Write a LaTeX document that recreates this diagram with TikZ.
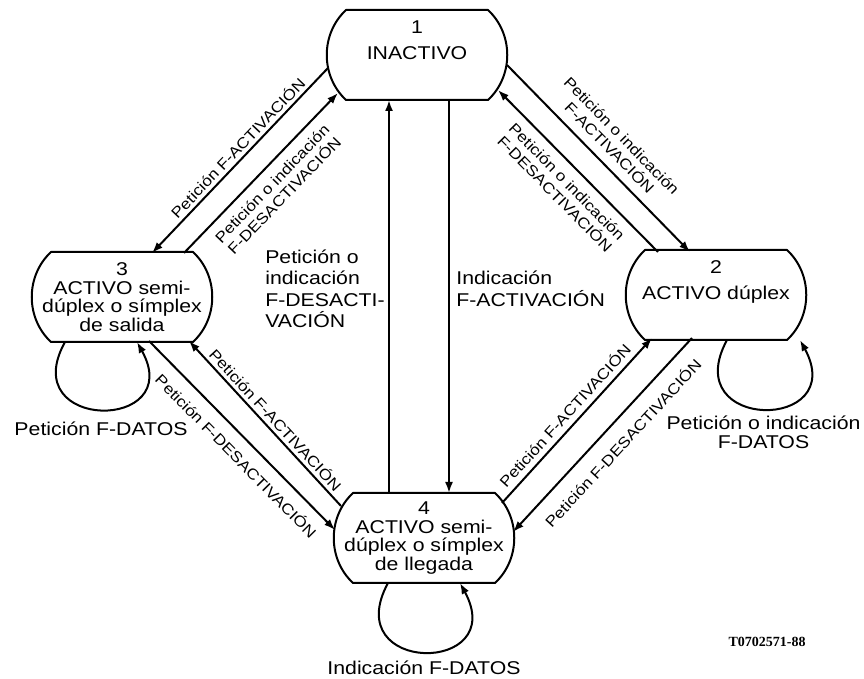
\documentclass[tikz,border=0pt]{standalone}
\usepackage{fontspec}
\setmainfont{Liberation Sans}[FakeStretch=1.15]
\newfontfamily\tagfont{Liberation Serif}
\usetikzlibrary{arrows.meta}
\newcommand\stateline[1]{%
  \draw ([xshift=18pt]#1.north west) -- ([xshift=-18pt]#1.north east)
    to[out=-43,in=43] ([xshift=-18pt]#1.south east) -- ([xshift=18pt]#1.south west)
    to[out=137,in=-137] ([xshift=18pt]#1.north west) -- cycle;}
\tikzset{
  state/.style={minimum width=176pt,minimum height=88pt,inner sep=0pt,align=center},
  lbl/.style={font=\fontsize{15}{17}\selectfont,align=center,sloped},
  vlbl/.style={font=\fontsize{18.5}{21.5}\selectfont,align=left}
}
\begin{document}
\begin{tikzpicture}[x=1pt,y=1pt,>={Latex[length=11pt,width=8pt]},line width=2pt,line join=round,
  font=\fontsize{18.5}{18.5}\selectfont]
\useasboundingbox (0,0) rectangle (864,679);
\node[state] (n1) at (417,624) {1\\[7.5pt]INACTIVO\rule[-30pt]{0pt}{30pt}};
\node[state] (n2) at (716,384) {2\\[7.5pt]ACTIVO dúplex\rule[-30pt]{0pt}{30pt}};
\node[state] (n3) at (122,382) {3\\ACTIVO semi-\\dúplex o símplex\\de salida};
\node[state] (n4) at (424,141) {4\\ACTIVO semi-\\dúplex o símplex\\de llegada};
\foreach \n in {n1,n2,n3,n4} {\stateline{\n}}
\draw[->] ([shift={(-89,-13)}]n1.center) -- node[lbl,above,pos=.47]{Petición F-ACTIVACIÓN} ([shift={(30,44)}]n3.center);
\draw[->] ([shift={(62,44)}]n3.center) -- node[lbl,below=5.5pt,pos=.5]{Petición o indicación\\F-DESACTIVACIÓN} ([shift={(-79,-38)}]n1.center);
\draw[->] ([shift={(90,-10)}]n1.center) -- node[lbl,above=5.5pt,pos=.5]{Petición o indicación\\F-ACTIVACIÓN} ([shift={(-26,43)}]n2.center);
\draw[->] ([shift={(-58,43)}]n2.center) -- node[lbl,below=5.5pt,pos=.5]{Petición o indicación\\F-DESACTIVACIÓN} ([shift={(81,-35)}]n1.center);
\draw[->] ([shift={(78,35)}]n4.center) -- node[lbl,above=2pt,pos=.48]{Petición F-ACTIVACIÓN} ([shift={(-64,-43)}]n2.center);
\draw[->] ([shift={(-24,-43)}]n2.center) -- node[lbl,below=9pt,pos=.47]{Petición F-DESACTIVACIÓN} ([shift={(89,6)}]n4.center);
\draw[->] ([shift={(-83,32)}]n4.center) -- node[lbl,above,pos=.48]{Petición F-ACTIVACIÓN} ([shift={(67,-44)}]n3.center);
\draw[->] ([shift={(27,-44)}]n3.center) -- node[lbl,below=7pt,pos=.54]{Petición F-DESACTIVACIÓN} ([shift={(-89,8)}]n4.center);
\draw[->] ([xshift=-35pt]n4.north) -- node[vlbl,pos=.52,left]{Petición o\\indicación\\F-DESACTI-\\VACIÓN} ([xshift=-28pt]n1.south);
\draw[->] ([xshift=32pt]n1.south) -- node[vlbl,pos=.48,right=3pt]{Indicación\\F-ACTIVACIÓN} ([xshift=25pt]n4.north);
\draw[->] ([xshift=-57pt]n3.south) .. controls +(-50,-90) and +(50,-90) .. node[below=8pt]{Petición F-DATOS} ([xshift=15pt]n3.south);
\draw[->] ([xshift=11pt]n2.south) .. controls +(-50,-92) and +(50,-92) .. node[below=3pt,align=center]{Petición o indicación\\F-DATOS} ([xshift=84pt]n2.south);
\draw[->] ([xshift=-36pt]n4.south) .. controls +(-50,-92) and +(50,-92) .. node[below=5pt]{Indicación F-DATOS} ([xshift=36pt]n4.south);
\node[font=\tagfont\bfseries\fontsize{14}{14}\selectfont] (tag) at (767,37) {T0702571-88};
\end{tikzpicture}
\end{document}
